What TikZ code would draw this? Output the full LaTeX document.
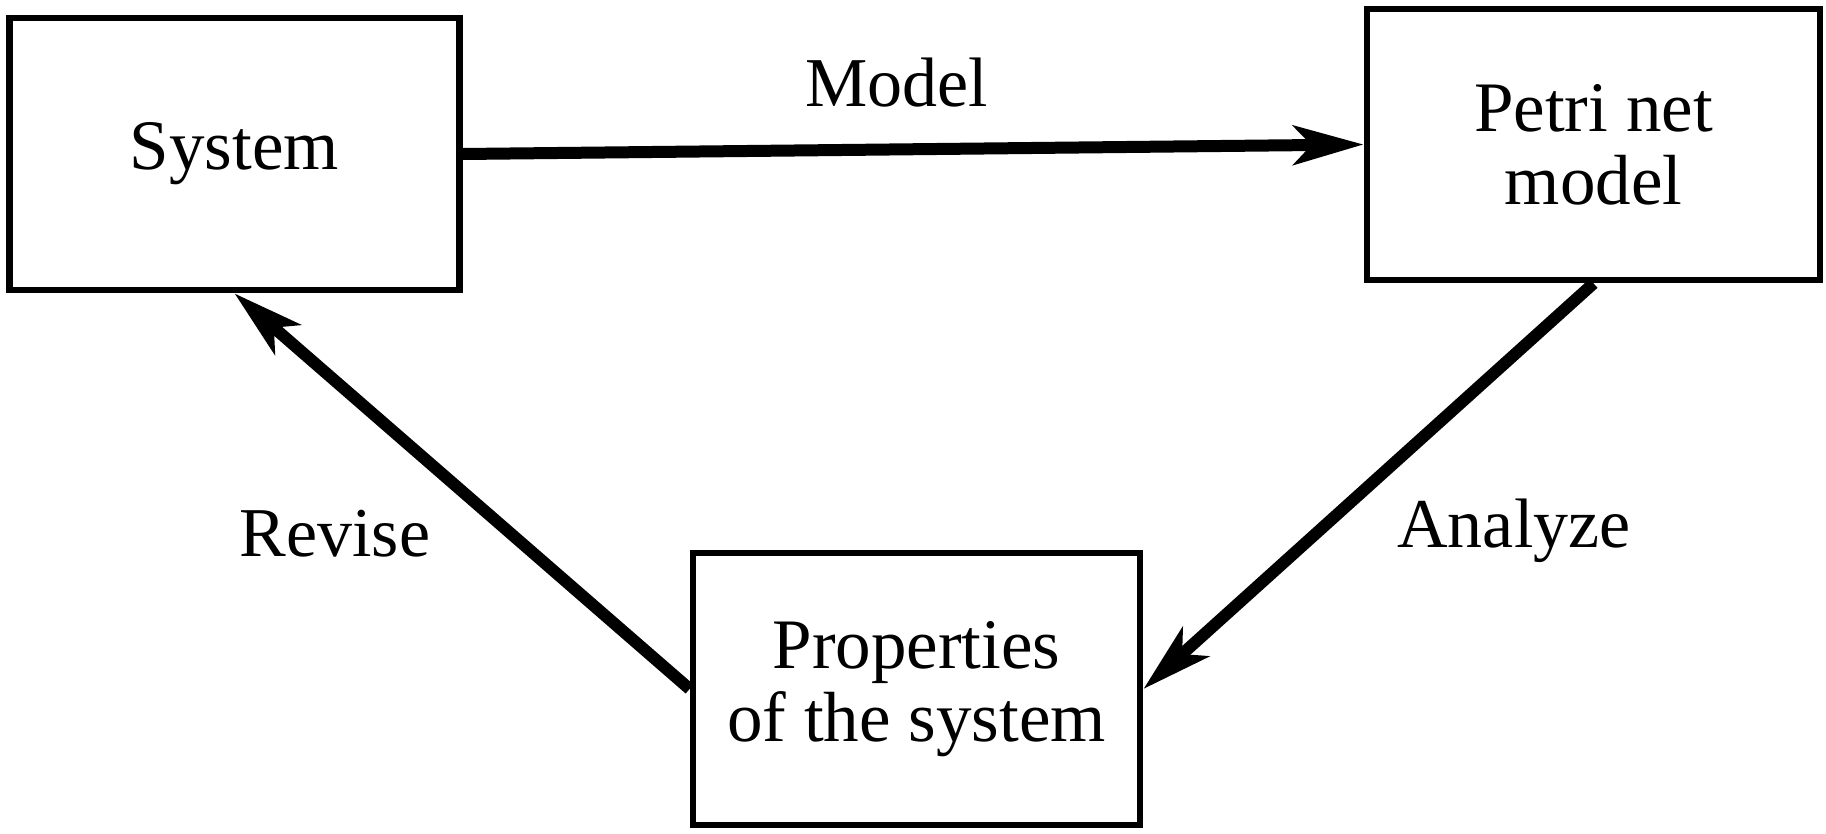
\documentclass[tikz,border=0pt]{standalone}
\usepackage{fontspec}
\setmainfont{Liberation Serif}
\usetikzlibrary{arrows.meta}
\begin{document}
\begin{tikzpicture}[x=0.5pt,y=-0.5pt,
  box/.style={draw=black, line width=3.4pt, rectangle, inner sep=0pt,
    align=center, font=\fontsize{35.5}{36.5}\selectfont},
  lbl/.style={anchor=base, inner sep=0pt, font=\fontsize{35}{36.5}\selectfont},
  conn/.style={line width=6pt, -{Stealth[length=35pt,width=19.5pt,inset=9pt]}}]
\useasboundingbox[fill=white] (0,0) rectangle (1826,834);
\node[box, minimum width=225pt, minimum height=136pt] (sys) at (234.5,154) {System};
\node[box, minimum width=226.5pt, minimum height=135.5pt] (petri) at (1593.5,144.5) {Petri net\\model};
\node[box, minimum width=223.5pt, minimum height=136pt] (props) at (916.5,689) {Properties\\of the system};
\node[lbl] (lmodel) at (897,107) {Model};
\node[lbl] (lanalyze) at (1514,547) {Analyze};
\node[lbl] (lrevise) at (335,556) {Revise};
\draw[conn] (sys.east) -- (petri.west);
\draw[conn] (petri.south) -- (props.east);
\draw[conn] (props.west) -- (sys.south);
\end{tikzpicture}
\end{document}
